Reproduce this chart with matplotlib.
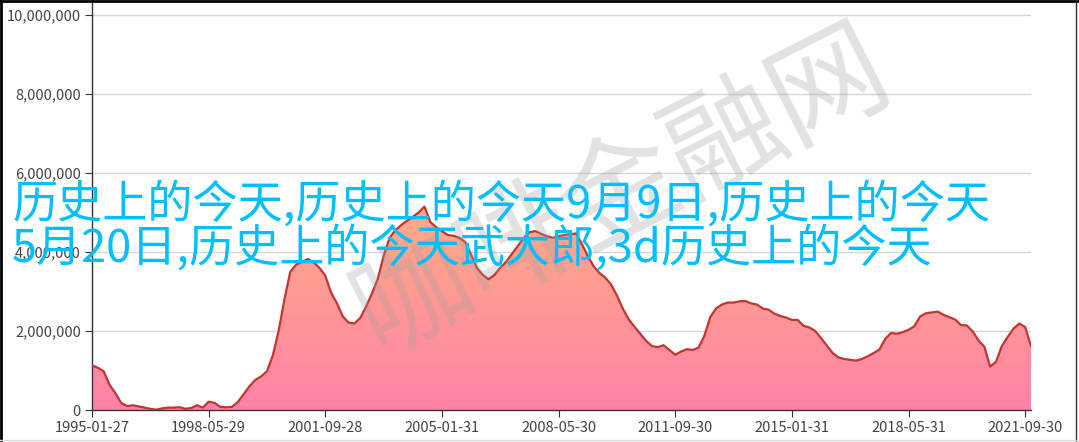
import numpy as np
import matplotlib
matplotlib.use("Agg")
import matplotlib.pyplot as plt
from matplotlib.colors import LinearSegmentedColormap
from matplotlib.ticker import FuncFormatter

plt.rcParams['font.family'] = ['Noto Sans CJK SC', 'DejaVu Sans']

# values, one every 2 months from 1995-01 (in millions)
step_months = 2
values_m = [
    1.13, 1.07, 0.98, 0.64, 0.43, 0.18, 0.10, 0.12, 0.09, 0.06,
    0.03, 0.01, 0.04, 0.06, 0.06, 0.07, 0.03, 0.05, 0.12, 0.06,
    0.21, 0.18, 0.08, 0.07, 0.08, 0.20, 0.40, 0.60, 0.76, 0.85,
    0.98, 1.38, 2.00, 2.80, 3.50, 3.68, 3.75, 3.82, 3.74, 3.60,
    3.40, 2.97, 2.70, 2.37, 2.21, 2.19, 2.33, 2.62, 2.95, 3.32,
    3.90, 4.35, 4.55, 4.68, 4.79, 4.89, 5.00, 5.15, 4.76, 4.63,
    4.53, 4.43, 4.41, 4.36, 4.25, 3.93, 3.60, 3.42, 3.31, 3.42,
    3.60, 3.75, 3.95, 4.15, 4.35, 4.50, 4.53, 4.46, 4.40, 4.36,
    4.40, 4.43, 4.45, 4.47, 4.20, 3.90, 3.64, 3.47, 3.35, 3.18,
    2.90, 2.57, 2.30, 2.11, 1.93, 1.75, 1.62, 1.59, 1.64, 1.52,
    1.40, 1.48, 1.54, 1.52, 1.58, 1.88, 2.35, 2.57, 2.67, 2.72,
    2.72, 2.75, 2.76, 2.70, 2.67, 2.57, 2.54, 2.44, 2.38, 2.34,
    2.28, 2.28, 2.13, 2.09, 2.00, 1.82, 1.63, 1.44, 1.33, 1.29,
    1.27, 1.25, 1.29, 1.36, 1.44, 1.53, 1.80, 1.95, 1.93, 1.97,
    2.03, 2.12, 2.37, 2.45, 2.47, 2.49, 2.41, 2.35, 2.29, 2.15,
    2.14, 1.99, 1.76, 1.60, 1.10, 1.22, 1.62, 1.85, 2.06, 2.19,
    2.10, 1.62,
]
tick_labels = ['1995-01-27', '1998-05-29', '2001-09-28', '2005-01-31',
               '2008-05-30', '2011-09-30', '2015-01-31', '2018-05-31',
               '2021-09-30']
tick_every_months = 40
y_ticks = [0, 2000000, 4000000, 6000000, 8000000, 10000000]

title_lines = ['历史上的今天,历史上的今天9月9日,历史上的今天',
               '5月20日,历史上的今天武大郎,3d历史上的今天']
watermark = '咖啡金融网'

values = np.array(values_m) * 1e6
x = np.arange(len(values)) * step_months

W, H = 1079, 442
fig = plt.figure(figsize=(W / 100, H / 100), dpi=100)
ax = fig.add_axes([92 / W, (H - 410) / H, 939 / W, 410 / H])
ax.set_xlim(0, x[-1])
ax.set_ylim(0, 10e6 * 410 / 395)

# gradient area
cmap = LinearSegmentedColormap.from_list('area', ['#ff82a8', '#ffac86'])
poly = ax.fill_between(x, 0, values, color='none', lw=0)
grad = np.linspace(0, 1, 256).reshape(-1, 1)
im = ax.imshow(grad, cmap=cmap, origin='lower', aspect='auto',
               extent=[0, x[-1], 0, values.max()], zorder=1)
im.set_clip_path(poly.get_paths()[0], transform=ax.transData)
ax.plot(x, values, color='#c23531', lw=1.6, zorder=3)

ax.set_yticks(y_ticks)
ax.yaxis.set_major_formatter(FuncFormatter(lambda v, p: f'{int(v):,}'))
ax.set_xticks(np.arange(len(tick_labels)) * tick_every_months)
ax.set_xticklabels(tick_labels)
ax.grid(axis='y', color='#d6d6d6', lw=1)
ax.set_axisbelow(True)
for s in ['top', 'right']:
    ax.spines[s].set_visible(False)
for s in ['left', 'bottom']:
    ax.spines[s].set_color('#333333')
    ax.spines[s].set_linewidth(1)
ax.tick_params(length=5, color='#333333', labelsize=10.5, labelcolor='#444444', pad=3)

# watermark
fig.text(622 / W, 1 - 192 / H, watermark, fontsize=84, color='#a0a0a0', alpha=0.3,
         fontweight='light', rotation=27, ha='center', va='center',
         rotation_mode='anchor', zorder=5)

# overlay title
fig.text(12 / W, 1 - 204 / H, title_lines[0], fontsize=32.5, color='#00bfff',
         ha='left', va='center', zorder=6)
fig.text(12 / W, 1 - 248 / H, title_lines[1], fontsize=32.5, color='#00bfff',
         ha='left', va='center', zorder=6)

# screenshot frame
fig.add_artist(plt.Line2D([0.5 / W, 0.5 / W], [0, 1], color='black', lw=2, transform=fig.transFigure))
fig.add_artist(plt.Line2D([0, 1], [1 - 0.5 / H, 1 - 0.5 / H], color='black', lw=2, transform=fig.transFigure))
fig.add_artist(plt.Line2D([1075.5 / W, 1075.5 / W], [0, 1], color='#333333', lw=1, transform=fig.transFigure))
fig.add_artist(plt.Line2D([0, 1], [1 - 439.5 / H, 1 - 439.5 / H], color='#dddddd', lw=1, transform=fig.transFigure))

fig.savefig('out.png', dpi=100)
